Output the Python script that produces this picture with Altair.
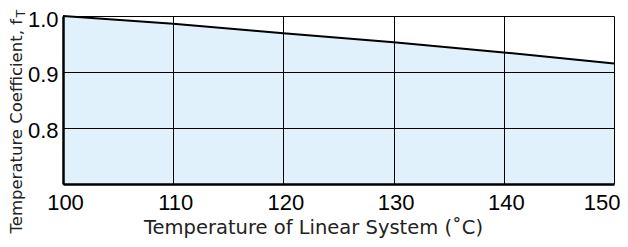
import altair as alt
import pandas as pd

temps = [100, 110, 120, 130, 140, 150]
coef = [1.0, 0.986, 0.969, 0.953, 0.935, 0.915]
x_ticks = [100, 110, 120, 130, 140, 150]
y_ticks = [0.8, 0.9, 1.0]
x_title = "Temperature of Linear System (˚C)"
y_title_main = ["Temperature Coefficient, f"]
y_title_sub = ["T"]

df = pd.DataFrame({"temp": temps, "coef": coef})

x_enc = alt.X(
    "temp:Q",
    scale=alt.Scale(domain=[100, 150], nice=False, zero=False),
    axis=alt.Axis(
        values=x_ticks,
        title=x_title,
        grid=True,
        gridColor="#000000",
        gridWidth=1,
        ticks=False,
        tickSize=0,
        domain=True,
        domainColor="#000000",
        domainWidth=2.5,
        labelFont="Liberation Sans",
        labelFontSize=22,
        labelColor="#000000",
        labelBaseline="alphabetic",
        labelPadding=25,
        labelAlign={"condition": {"test": "datum.value == 150", "value": "right"}, "value": "center"},
        labelOffset={"condition": {"test": "datum.value == 150", "value": 6}, "value": 2},
        titleFont="DejaVu Sans",
        titleFontSize=19.5,
        titleFontWeight="normal",
        titleColor="#222222",
        titleX=250,
        titleY=49,
        titleAlign="center",
        titleBaseline="alphabetic",
        zindex=1,
    ),
)
y_enc = alt.Y(
    "coef:Q",
    scale=alt.Scale(domain=[0.7, 1.0], nice=False, zero=False),
    axis=alt.Axis(
        values=y_ticks,
        format=".1f",
        title=None,
        grid=True,
        gridColor="#000000",
        gridWidth=1,
        ticks=False,
        tickSize=0,
        domain=True,
        domainColor="#000000",
        domainWidth=2.5,
        labelFont="Liberation Sans",
        labelFontSize=22,
        labelColor="#000000",
        labelBaseline="middle",
        labelPadding=5,
        labelOffset={"condition": {"test": "datum.value == 1", "value": 3.5}, "value": 2},
        zindex=1,
    ),
)

area = alt.Chart(df).mark_area(color="#e0f1fb", opacity=1).encode(
    x=x_enc, y=y_enc, y2=alt.datum(0.7)
)
line = alt.Chart(df).mark_line(color="#000000", strokeWidth=2).encode(
    x="temp:Q", y="coef:Q"
)

ytitle = alt.Chart(pd.DataFrame({"t": y_title_main})).mark_text(
    angle=270, align="right", baseline="alphabetic", font="DejaVu Sans",
    fontSize=16.5, color="#222222"
).encode(x=alt.value(-41.5), y=alt.value(3), text="t:N")

ysub = alt.Chart(pd.DataFrame({"t": y_title_sub})).mark_text(
    angle=270, align="left", baseline="alphabetic", font="DejaVu Sans",
    fontSize=12.5, color="#222222"
).encode(x=alt.value(-38.5), y=alt.value(1.5), text="t:N")

chart = alt.layer(area, line, ytitle, ysub).properties(
    width=551,
    height=168,
    autosize=alt.AutoSizeParams(type="none"),
    padding={"left": 55, "top": 8, "right": 6, "bottom": 55},
).configure_view(stroke="#000000", strokeWidth=3).configure(background="white")

chart.save("out.html", embed_options={"renderer": "svg", "actions": False})
